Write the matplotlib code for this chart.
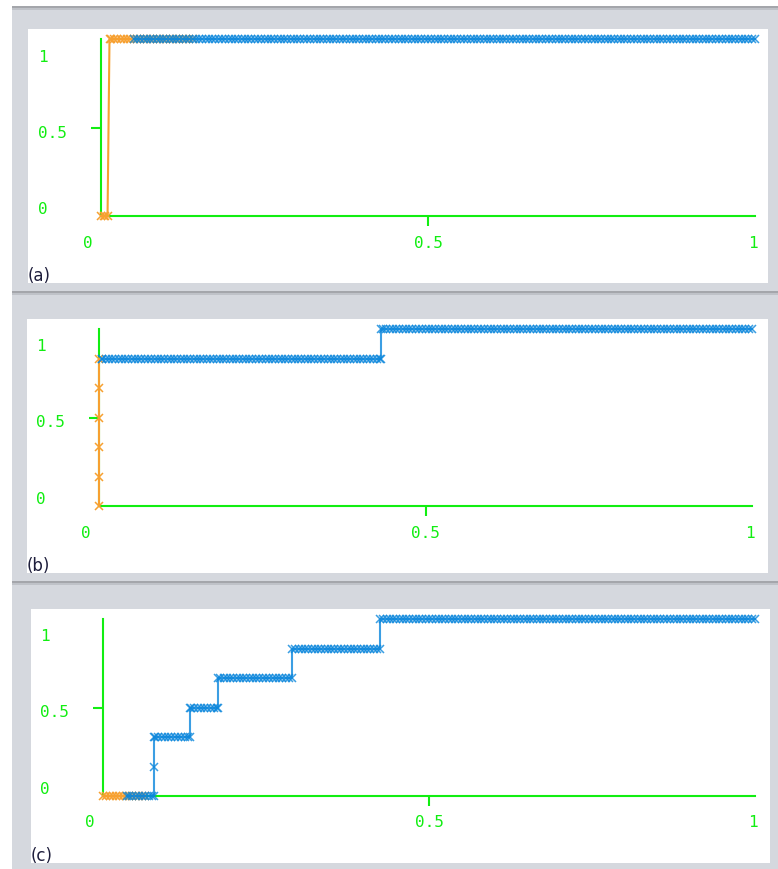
import matplotlib
matplotlib.use('Agg')
import matplotlib.pyplot as plt
from matplotlib.patches import Rectangle
import numpy as np

# Data
# sample positions shared by all curves (markers sit on these)
thresholds = [
    0.000, 0.005, 0.010, 0.015, 0.020, 0.025, 0.030, 0.035, 0.040, 0.045,
    0.050, 0.055, 0.060, 0.065, 0.070, 0.075, 0.080, 0.085, 0.090, 0.095,
    0.100, 0.105, 0.110, 0.115, 0.120, 0.125, 0.130, 0.135, 0.140, 0.145,
    0.150, 0.155, 0.160, 0.165, 0.170, 0.175, 0.180, 0.185, 0.190, 0.195,
    0.200, 0.205, 0.210, 0.215, 0.220, 0.225, 0.230, 0.235, 0.240, 0.245,
    0.250, 0.255, 0.260, 0.265, 0.270, 0.275, 0.280, 0.285, 0.290, 0.295,
    0.300, 0.305, 0.310, 0.315, 0.320, 0.325, 0.330, 0.335, 0.340, 0.345,
    0.350, 0.355, 0.360, 0.365, 0.370, 0.375, 0.380, 0.385, 0.390, 0.395,
    0.400, 0.405, 0.410, 0.415, 0.420, 0.425, 0.430, 0.435, 0.440, 0.445,
    0.450, 0.455, 0.460, 0.465, 0.470, 0.475, 0.480, 0.485, 0.490, 0.495,
    0.500, 0.505, 0.510, 0.515, 0.520, 0.525, 0.530, 0.535, 0.540, 0.545,
    0.550, 0.555, 0.560, 0.565, 0.570, 0.575, 0.580, 0.585, 0.590, 0.595,
    0.600, 0.605, 0.610, 0.615, 0.620, 0.625, 0.630, 0.635, 0.640, 0.645,
    0.650, 0.655, 0.660, 0.665, 0.670, 0.675, 0.680, 0.685, 0.690, 0.695,
    0.700, 0.705, 0.710, 0.715, 0.720, 0.725, 0.730, 0.735, 0.740, 0.745,
    0.750, 0.755, 0.760, 0.765, 0.770, 0.775, 0.780, 0.785, 0.790, 0.795,
    0.800, 0.805, 0.810, 0.815, 0.820, 0.825, 0.830, 0.835, 0.840, 0.845,
    0.850, 0.855, 0.860, 0.865, 0.870, 0.875, 0.880, 0.885, 0.890, 0.895,
    0.900, 0.905, 0.910, 0.915, 0.920, 0.925, 0.930, 0.935, 0.940, 0.945,
    0.950, 0.955, 0.960, 0.965, 0.970, 0.975, 0.980, 0.985, 0.990, 0.995,
    1.000,
]

# corner points of each curve
a_orange_x = [0.0, 0.006, 0.013, 0.14]
a_orange_y = [0.0, 0.0, 1.0, 1.0]
a_blue_x = [0.05, 1.0]
a_blue_y = [1.0, 1.0]

b_orange_x = [0.0, 0.0, 0.0, 0.0, 0.0, 0.0]
b_orange_y = [0.0, 1/6, 1/3, 1/2, 2/3, 5/6]
b_blue_x = [0.004, 0.432, 0.432, 1.0]
b_blue_y = [5/6, 5/6, 1.0, 1.0]

c_orange_x = [0.0, 0.064]
c_orange_y = [0.0, 0.0]
c_blue_x = [0.037, 0.078, 0.078, 0.078, 0.133, 0.133, 0.176, 0.176, 0.29, 0.29, 0.425, 0.425, 1.0]
c_blue_y = [0.0, 0.0, 1/6, 1/3, 1/3, 0.5, 0.5, 2/3, 2/3, 5/6, 5/6, 1.0, 1.0]

panel_labels = ['(a)', '(b)', '(c)']
tick_values = [0.0, 0.5, 1.0]
tick_labels = ['0', '0.5', '1']

W, H = 778, 870
GREEN = '#11ee11'
ORANGE = '#f7a030'
BLUE = '#0a86dc'
GRAY = '#d5d8de'


def curve(cx, cy):
    cx = np.array(cx)
    cy = np.array(cy)
    g = np.array(thresholds)
    g = g[(g > cx[0]) & (g < cx[-1])]
    g = g[~np.isin(g, cx)]
    gy = cy[np.searchsorted(cx, g, side='right') - 1]
    x = np.concatenate([cx, g])
    y = np.concatenate([cy, gy])
    order = np.lexsort((y, x))
    return x[order], y[order]


def box(x0, y0, x1, y1, color):
    # pixel box (top-left origin) -> figure rectangle
    fig.add_artist(Rectangle((x0 / W, 1 - y1 / H), (x1 - x0) / W, (y1 - y0) / H,
                             transform=fig.transFigure, facecolor=color,
                             edgecolor='none', zorder=-10))


fig = plt.figure(figsize=(W / 100, H / 100), dpi=100)
fig.patch.set_facecolor('white')

# window frame
box(12, 8, 778, 870, GRAY)
for yy in [7, 292, 582]:
    box(12, yy, 778, yy + 2, '#a4a6ab')
    box(12, yy + 2, 778, yy + 4, '#bfc2c8')

# white panel areas and axes boxes (pixels)
whites = [(28, 30, 768, 284), (27, 320, 768, 574), (31, 610, 770, 864)]
axboxes = [(101, 40, 755, 217), (99, 330, 752, 507), (103, 620, 755, 797)]
series = [
    [(a_orange_x, a_orange_y), (a_blue_x, a_blue_y)],
    [(b_orange_x, b_orange_y), (b_blue_x, b_blue_y)],
    [(c_orange_x, c_orange_y), (c_blue_x, c_blue_y)],
]
label_y_offsets = [7, 84, 160]

for wb, (l, t, r, b), ser, plab in zip(whites, axboxes, series, panel_labels):
    box(*wb, 'white')
    ax = fig.add_axes([l / W, 1 - b / H, (r - l) / W, (b - t) / H])
    ax.patch.set_alpha(0)
    ax.set_xlim(0, 1)
    ax.set_ylim(0, 1)
    for side in ['top', 'right']:
        ax.spines[side].set_visible(False)
    for side in ['left', 'bottom']:
        ax.spines[side].set_color(GREEN)
        ax.spines[side].set_linewidth(1.5)
    ax.set_xticks([0.5])
    ax.set_yticks([0.5])
    ax.set_xticklabels([])
    ax.set_yticklabels([])
    ax.tick_params(colors=GREEN, length=7, width=1.5, direction='out')

    (ox, oy), (bx, by) = ser
    x, y = curve(ox, oy)
    ax.plot(x, y, color=ORANGE, lw=1.5, marker='x', ms=5.5, mew=1.1,
            clip_on=False, zorder=3)
    x, y = curve(bx, by)
    ax.plot(x, y, color=BLUE, lw=1.5, marker='x', ms=5.5, mew=1.1,
            alpha=0.8, clip_on=False, zorder=4)

    # y tick labels
    for off, lab in zip(label_y_offsets, tick_labels):
        fig.text((l - 63) / W, 1 - (b - off) / H, lab, ha='left', va='center',
                 color=GREEN, fontsize=11.5, family='DejaVu Sans Mono')
    # x tick labels
    for v, lab in zip(tick_values, tick_labels):
        xp = l + v * (r - l)
        if v == 0.0:
            xp = l - 13
        elif v == 1.0:
            xp = r - 2
        fig.text(xp / W, 1 - (b + 26) / H, lab, ha='center', va='center',
                 color=GREEN, fontsize=11.5, family='DejaVu Sans Mono')

    fig.text((wb[0] + 0) / W, 1 - (wb[3] - 8) / H, plab, ha='left', va='center',
             color='#1e1e3c', fontsize=12)

fig.savefig('out.png', dpi=100, facecolor='white')
